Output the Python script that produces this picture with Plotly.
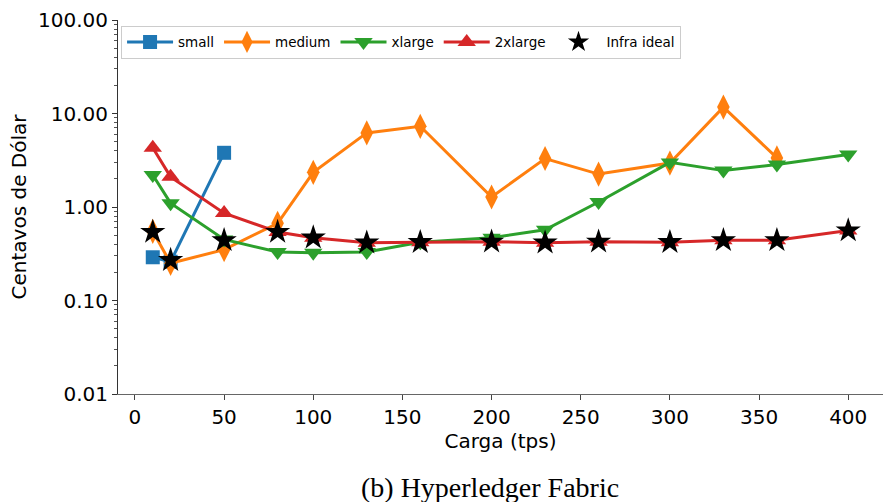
import plotly.graph_objects as go

small_x = [10, 20, 50]
small_y = [0.29, 0.26, 3.8]

medium_x = [10, 20, 50, 80, 100, 130, 160, 200, 230, 260, 300, 330, 360]
medium_y = [0.55, 0.25, 0.35, 0.67, 2.35, 6.2, 7.3, 1.28, 3.3, 2.25, 2.95, 11.7, 3.35]

xlarge_x = [10, 20, 50, 80, 100, 130, 160, 200, 230, 260, 300, 330, 360, 400]
xlarge_y = [2.2, 1.1, 0.45, 0.33, 0.325, 0.33, 0.42, 0.47, 0.57, 1.13, 3.0, 2.45, 2.85, 3.65]

x2large_x = [10, 20, 50, 80, 100, 130, 160, 200, 230, 260, 300, 330, 360, 400]
x2large_y = [4.3, 2.1, 0.86, 0.54, 0.47, 0.415, 0.42, 0.425, 0.415, 0.425, 0.42, 0.44, 0.44, 0.56]

ideal_x = [10, 20, 50, 80, 100, 130, 160, 200, 230, 260, 300, 330, 360, 400]
ideal_y = [0.54, 0.27, 0.44, 0.54, 0.47, 0.415, 0.42, 0.425, 0.415, 0.425, 0.42, 0.44, 0.44, 0.56]

x_ticks = [0, 50, 100, 150, 200, 250, 300, 350, 400]
y_ticks = [0.01, 0.1, 1, 10, 100]
minor_y = [m * 10 ** e for e in range(-2, 2) for m in range(2, 10)]

series = [
    ("small", small_x, small_y, "#1f77b4", "square", 14),
    ("medium", medium_x, medium_y, "#ff7f0e", "diamond-tall", 18),
    ("xlarge", xlarge_x, xlarge_y, "#2ca02c", "triangle-down", 16),
    ("2xlarge", x2large_x, x2large_y, "#d62728", "triangle-up", 16),
]

fig = go.Figure()
for name, xs, ys, col, sym, sz in series:
    fig.add_trace(go.Scatter(
        x=xs, y=ys, name=name, mode="lines+markers",
        line=dict(color=col, width=3),
        marker=dict(symbol=sym, size=sz, color=col),
    ))
fig.add_trace(go.Scatter(
    x=ideal_x, y=ideal_y, name="Infra ideal", mode="markers",
    marker=dict(symbol="star", size=19, color="black"),
))

fig.update_layout(
    width=884, height=502,
    margin=dict(l=118, r=1, t=20, b=108),
    plot_bgcolor="white", paper_bgcolor="white",
    font=dict(family="DejaVu Sans", size=16.5, color="black"),
    showlegend=True,
    legend=dict(
        orientation="h", x=0.004, y=0.985, xanchor="left", yanchor="top",
        bgcolor="white", bordercolor="#cccccc", borderwidth=1,
        font=dict(size=13.5), itemwidth=46,
    ),
    xaxis=dict(
        range=[-9.5, 419.5], tickvals=x_ticks, ticks="outside", ticklen=5,
        tickcolor="#444", tickfont=dict(size=20),
        showgrid=False, zeroline=False, showline=True, linecolor="#666",
        linewidth=1.3, title=dict(text="Carga (tps)", standoff=3),
    ),
    yaxis=dict(
        type="log", range=[-2, 2], tickvals=y_ticks,
        ticktext=["%.2f" % v for v in y_ticks],
        ticks="outside", ticklen=5, tickcolor="#333", tickfont=dict(size=20),
        showgrid=False, zeroline=False,
        showline=True, linecolor="#333", linewidth=1.1,
        title=dict(text="Centavos de Dólar", standoff=5),
        minor=dict(tickvals=minor_y, ticks="outside", ticklen=3,
                   tickcolor="#555", showgrid=False),
    ),
    annotations=[dict(
        text="(b) Hyperledger Fabric", xref="paper", yref="paper",
        x=0.486, y=-0.251, xanchor="center", yanchor="middle", showarrow=False,
        font=dict(family="Liberation Serif", size=28),
    )],
)

fig.write_html("out.html")
